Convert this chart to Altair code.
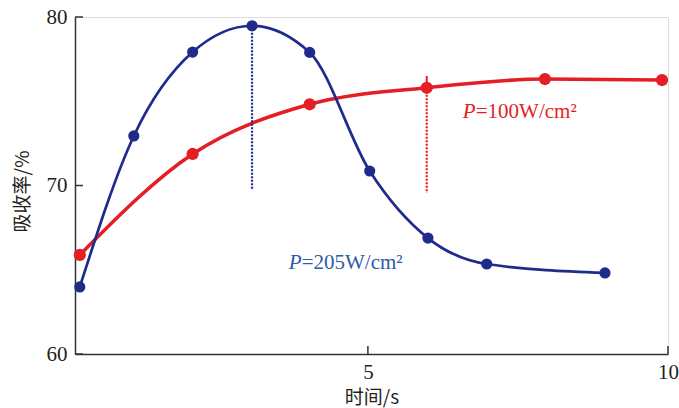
import altair as alt
import pandas as pd

# ---- data ----
blue_t = [0.2, 1.1, 2.08, 3.07, 4.03, 5.03, 6.0, 6.98, 8.95]
blue_v = [63.98, 72.94, 77.92, 79.48, 77.9, 70.86, 66.88, 65.34, 64.81]
red_t = [0.2, 2.08, 4.03, 5.98, 7.95, 9.9]
red_v = [65.88, 71.87, 74.82, 75.8, 76.32, 76.26]

# dotted guide lines (t, top, bottom)
guide_blue = [3.07, 79.48, 69.73]
guide_red = [5.98, 75.8, 69.55]
red_cap = [5.98, 75.8, 76.5]

x_ticks = [5, 10]
y_ticks = [60, 70, 80]

lab_red = ["P", "=100W/cm²", 6.58, 74.36]
lab_blue = ["P", "=205W/cm²", 3.68, 65.4]

BLUE = "#1f2b8c"
RED = "#e31e24"
BLUE_TXT = "#2f5ba8"
AX = "#333333"

W, H = 593, 337

df_b = pd.DataFrame({"t": blue_t, "v": blue_v})
df_r = pd.DataFrame({"t": red_t, "v": red_v})

xs = alt.Scale(domain=[0.12, 10], nice=False, zero=False)
ys = alt.Scale(domain=[60, 80], nice=False, zero=False)

x_axis = alt.Axis(
    values=x_ticks, format="d", tickSize=0, labelPadding=7, domainColor=AX, domainWidth=1.5,
    labelFont="Liberation Serif", labelFontSize=21, labelColor="#231f20",
    title="时间/s", titleFont="Noto Sans CJK SC", titleFontSize=19,
    titleFontWeight="normal", titleColor="#231f20", titleY=43,
    titleBaseline="middle", grid=False, labelFlush=False,
)
y_axis = alt.Axis(
    values=y_ticks, format="d", tickSize=0, labelPadding=8, domainColor=AX, domainWidth=1.5,
    labelFont="Liberation Serif", labelFontSize=21, labelColor="#231f20",
    labelBaseline="middle",
    title="吸收率/%", titleFont="Noto Sans CJK SC", titleFontSize=19,
    titleFontWeight="normal", titleColor="#231f20", titleX=-53, titleY=174,
    titleBaseline="middle", titleAlign="center", grid=False, labelFlush=False,
)

base_r = alt.Chart(df_r)
red_line = base_r.mark_line(interpolate="monotone", color=RED, strokeWidth=3.5).encode(
    x=alt.X("t:Q", scale=xs, axis=x_axis),
    y=alt.Y("v:Q", scale=ys, axis=y_axis),
)
red_pts = base_r.mark_circle(color=RED, size=150, opacity=1).encode(
    x=alt.X("t:Q", scale=xs), y=alt.Y("v:Q", scale=ys)
)

base_b = alt.Chart(df_b)
blue_line = base_b.mark_line(interpolate="monotone", color=BLUE, strokeWidth=2.7).encode(
    x=alt.X("t:Q", scale=xs), y=alt.Y("v:Q", scale=ys)
)
blue_pts = base_b.mark_circle(color=BLUE, size=125, opacity=1).encode(
    x=alt.X("t:Q", scale=xs), y=alt.Y("v:Q", scale=ys)
)

def vrule(vals, color, dash, width):
    d = pd.DataFrame({"t": [vals[0]], "a": [vals[1]], "b": [vals[2]]})
    kw = dict(color=color, strokeWidth=width)
    if dash:
        kw["strokeDash"] = dash
    return alt.Chart(d).mark_rule(**kw).encode(
        x=alt.X("t:Q", scale=xs), y=alt.Y("a:Q", scale=ys), y2="b:Q"
    )

g_blue = vrule(guide_blue, BLUE, [2, 1.5], 2.2)
g_red = vrule(guide_red, RED, [2, 1.5], 2.2)
cap_red = vrule(red_cap, RED, None, 2)

def label(lab, color):
    d = pd.DataFrame({"t": [lab[2]], "v": [lab[3]], "p": [lab[0]], "rest": [lab[1]]})
    c = alt.Chart(d)
    p = c.mark_text(font="Liberation Serif", fontSize=21, fontStyle="italic",
                    align="left", baseline="middle", color=color).encode(
        x=alt.X("t:Q", scale=xs), y=alt.Y("v:Q", scale=ys), text="p:N")
    r = c.mark_text(font="Liberation Serif", fontSize=21, align="left",
                    baseline="middle", color=color, dx=13).encode(
        x=alt.X("t:Q", scale=xs), y=alt.Y("v:Q", scale=ys), text="rest:N")
    return p + r

t_red = label(lab_red, RED)
t_blue = label(lab_blue, BLUE_TXT)

xt = alt.Chart(pd.DataFrame({"t": x_ticks})).mark_rule(color=AX, strokeWidth=1.5).encode(
    x=alt.X("t:Q", scale=xs), y=alt.value(H), y2=alt.value(H - 8)
)
yt = alt.Chart(pd.DataFrame({"v": y_ticks})).mark_rule(color=AX, strokeWidth=1.5).encode(
    y=alt.Y("v:Q", scale=ys), x=alt.value(0), x2=alt.value(8)
)

chart = alt.layer(
    red_line, g_blue, g_red, cap_red, blue_line, red_pts, blue_pts,
    t_red, t_blue, xt, yt
).properties(
    width=W, height=H,
    autosize=alt.AutoSizeParams(type="none"),
    padding={"left": 75, "top": 17, "right": 11, "bottom": 54},
).configure_view(stroke=None).configure(background="white")

chart.save("out.html", embed_options={"renderer": "svg", "actions": False})
